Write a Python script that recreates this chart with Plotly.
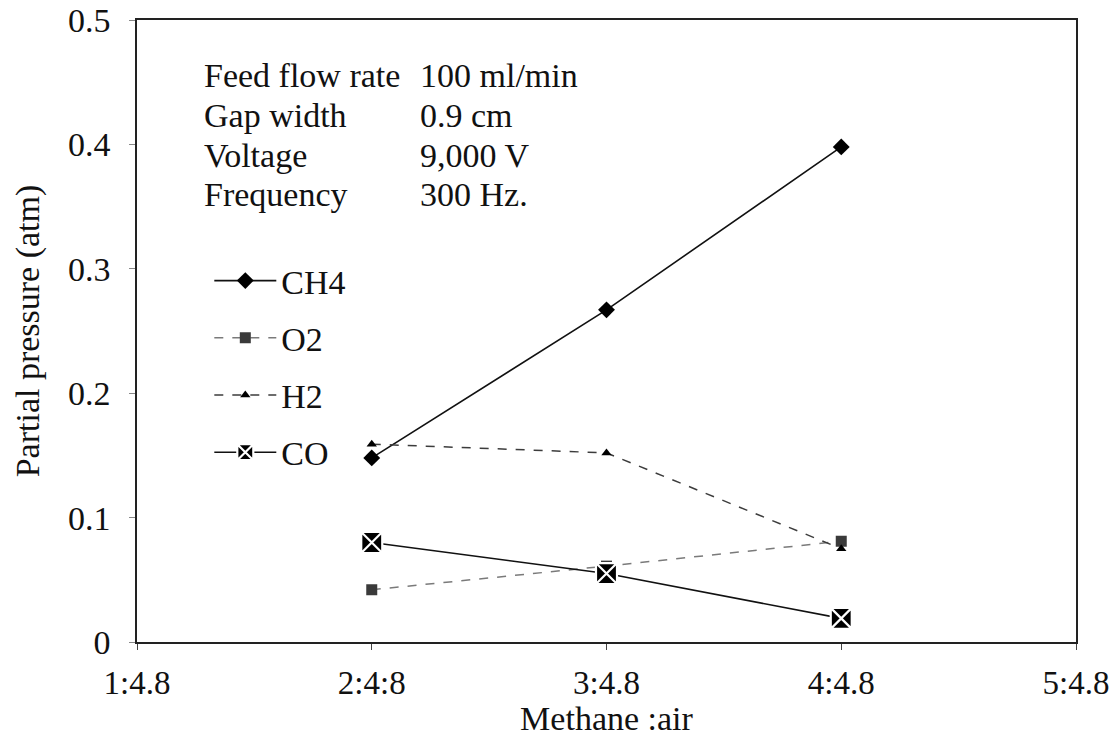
import plotly.graph_objects as go

# Methane : air feed ratio (first number of the ratio on the x axis)
ratio = [2, 3, 4]
tick_vals = [1, 2, 3, 4, 5]
tick_text = ["1:4.8", "2:4:8", "3:4.8", "4:4.8", "5:4.8"]

# Partial pressures (atm)
ch4 = [0.148, 0.267, 0.398]
o2 = [0.042, 0.061, 0.081]
h2 = [0.159, 0.152, 0.075]
co = [0.080, 0.055, 0.019]

conditions = ["Feed flow rate", "Gap width", "Voltage", "Frequency"]
condition_values = ["100 ml/min", "0.9 cm", "9,000 V", "300 Hz."]

FONT = "Liberation Serif, Times New Roman, serif"
FS = 34

fig = go.Figure()

fig.add_trace(go.Scatter(
    x=ratio, y=ch4, name="CH4", mode="lines+markers", legendgroup="a",
    line=dict(color="#111111", width=1.6),
    marker=dict(symbol="diamond", size=13, color="#000000"),
))
fig.add_trace(go.Scatter(
    x=ratio, y=o2, name="O2", mode="lines+markers", legendgroup="b",
    line=dict(color="#7a7a7a", width=1.5, dash="dash"),
    marker=dict(symbol="square", size=11, color="#3a3a3a"),
))
fig.add_trace(go.Scatter(
    x=ratio, y=h2, name="H2", mode="lines+markers", legendgroup="c",
    line=dict(color="#3c3c3c", width=1.5, dash="dash"),
    marker=dict(symbol="triangle-up", size=9, color="#000000"),
))
fig.add_trace(go.Scatter(
    x=ratio, y=co, name="CO", mode="lines+markers", legendgroup="d",
    line=dict(color="#111111", width=1.6),
    marker=dict(symbol="square-x", size=21, color="#000000",
                line=dict(color="#ffffff", width=2.2)),
))

# Operating conditions block
for i, (lab, val) in enumerate(zip(conditions, condition_values)):
    yy = 0.455 - i * 0.0318
    fig.add_annotation(x=0.069, y=yy, xref="paper", yref="y", text=lab,
                       showarrow=False, xanchor="left", yanchor="middle",
                       font=dict(family=FONT, size=FS, color="#111111"))
    fig.add_annotation(x=0.299, y=yy, xref="paper", yref="y", text=val,
                       showarrow=False, xanchor="left", yanchor="middle",
                       font=dict(family=FONT, size=FS, color="#111111"))

fig.update_layout(
    width=1112, height=737,
    margin=dict(l=137, r=36, t=20, b=95),
    paper_bgcolor="#ffffff", plot_bgcolor="#ffffff",
    font=dict(family=FONT, size=FS, color="#111111"),
    showlegend=True,
    legend=dict(x=0.077, y=0.627, xanchor="left", yanchor="top",
                bgcolor="rgba(0,0,0,0)", tracegroupgap=10, itemwidth=62,
                font=dict(family=FONT, size=FS, color="#111111")),
)

fig.update_xaxes(
    range=[1, 5], tickmode="array", tickvals=tick_vals, ticktext=tick_text,
    showgrid=False, zeroline=False, showline=True, linecolor="#222222",
    linewidth=1.5, mirror=True, ticks="outside", ticklen=6, tickcolor="#444444",
    tickfont=dict(family=FONT, size=33, color="#111111"),
    ticklabelstandoff=5, ticklabeloverflow="allow", automargin=False,
    title=dict(text="Methane :air", standoff=0,
               font=dict(family=FONT, size=FS, color="#111111")),
)
fig.update_yaxes(
    range=[0, 0.5], tickmode="array", tickvals=[0, 0.1, 0.2, 0.3, 0.4, 0.5],
    ticktext=["0", "0.1", "0.2", "0.3", "0.4", "0.5"],
    showgrid=False, zeroline=False, showline=True, linecolor="#222222",
    linewidth=1.5, mirror=True, ticks="outside", ticklen=6, tickcolor="#888888",
    tickfont=dict(family=FONT, size=FS, color="#111111"),
    ticklabelstandoff=12, automargin=False,
    title=dict(text="Partial pressure (atm)", standoff=18,
               font=dict(family=FONT, size=FS, color="#111111")),
)

fig.write_html("out.html")
